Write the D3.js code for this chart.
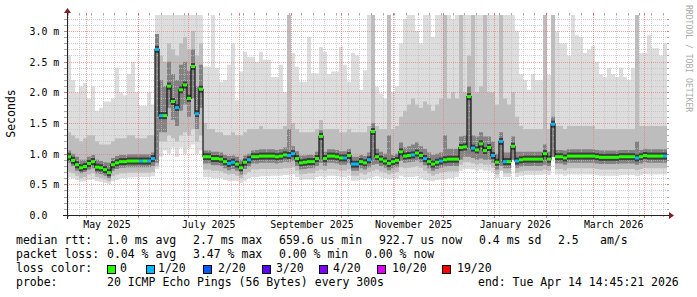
<!DOCTYPE html>
<html>
<head>
<meta charset="utf-8">
<script src="https://cdn.jsdelivr.net/npm/d3@7"></script>
<style>
  html, body { margin: 0; padding: 0; background: #fff; }
  svg { display: block; }
  text { font-family: "DejaVu Sans Mono", monospace; white-space: pre; }
</style>
</head>
<body>
<div id="chart"></div>
<script>
// 360 days, 150 consolidated steps of 2.4 days each (values in ms)
const median = [
  0.95,0.89,0.82,0.77,0.79,0.84,0.87,0.78,0.77,0.74,
  0.69,0.82,0.85,0.87,0.87,0.88,0.88,0.88,0.88,0.88,
  0.88,0.92,2.70,1.62,1.62,2.10,1.85,1.75,2.04,2.12,
  1.90,2.42,1.65,2.05,0.95,0.95,0.92,0.92,0.91,0.87,
  0.84,0.86,0.83,0.77,0.86,0.90,0.95,0.95,0.96,0.96,
  0.96,0.96,0.95,0.96,0.98,0.97,1.00,0.92,0.85,0.86,
  0.87,0.87,0.92,1.28,0.92,0.96,0.96,0.95,0.93,0.93,
  0.97,0.83,0.83,0.87,0.85,0.90,1.36,0.95,0.91,0.88,
  0.84,0.87,0.89,1.03,0.96,0.97,0.98,1.01,0.97,0.92,
  0.87,0.83,0.86,0.88,0.90,0.91,0.91,0.91,1.10,1.11,
  1.93,1.09,1.06,1.16,1.05,1.10,0.97,0.86,1.20,0.87,
  0.87,1.12,0.88,0.90,0.91,0.91,0.91,0.91,0.91,1.00,
  0.91,1.48,0.95,0.95,0.93,0.96,0.96,0.96,0.96,0.96,
  0.96,0.96,0.95,0.94,0.94,0.94,0.94,0.94,0.95,0.95,
  0.95,0.95,0.93,0.95,0.97,0.96,0.96,0.96,0.96,0.96
];
// index into lossColors (0 = no loss, 1 = 1/20 ...)
const loss = [
  0,0,0,0,0,0,0,0,0,0,
  0,0,0,0,0,0,0,0,1,0,
  1,1,1,1,0,0,0,1,0,0,
  0,0,1,0,0,0,0,0,0,0,
  1,1,0,0,0,1,0,0,0,0,
  0,0,0,0,0,1,1,0,0,0,
  0,0,0,0,0,0,0,0,0,1,
  0,1,1,0,0,1,0,0,0,0,
  0,0,0,0,0,0,1,0,0,1,
  0,0,0,1,0,0,0,0,0,0,
  0,1,0,0,0,0,1,0,1,1,
  0,0,1,0,0,0,0,0,0,0,
  0,1,0,0,0,0,0,0,0,0,
  0,0,0,0,0,0,0,0,0,0,
  0,0,1,0,0,0,0,0,0,1
];
const maxv = [
  2.60,2.20,2.00,2.10,2.15,1.90,2.10,1.70,1.75,1.85,
  1.85,1.90,2.40,2.00,1.95,2.30,2.50,2.00,1.78,1.78,
  2.00,1.80,3.60,3.60,3.60,3.60,3.60,3.60,3.60,3.60,
  3.60,3.60,3.60,3.60,2.42,2.42,3.60,2.40,2.17,2.20,
  2.45,2.80,1.87,2.34,2.66,2.58,2.58,2.50,2.66,2.53,
  2.53,2.25,2.25,2.45,2.00,3.60,2.64,2.42,2.17,2.17,
  2.90,2.31,2.31,2.74,2.66,2.30,2.34,2.34,2.74,2.45,
  2.17,2.64,2.60,2.04,2.36,3.60,3.60,2.09,1.98,1.90,
  3.60,2.00,2.10,2.80,3.20,3.60,3.60,3.00,2.80,3.30,
  3.60,2.90,3.40,3.60,3.60,3.30,3.20,3.30,3.60,3.60,
  3.60,3.60,3.60,3.30,3.60,3.60,3.60,3.30,3.60,3.60,
  3.60,3.60,3.00,2.30,2.20,2.04,2.30,2.20,2.20,3.60,
  2.28,3.60,2.99,2.80,2.80,2.60,3.60,2.93,2.90,2.64,
  2.70,2.75,2.50,2.30,2.25,2.40,2.30,2.25,2.40,2.25,
  2.20,2.40,3.60,2.64,2.64,2.93,2.72,2.72,2.60,2.80
];
const hi2 = [
  1.35,1.30,1.25,1.20,1.25,1.30,1.30,1.20,1.15,1.15,
  1.15,1.20,1.25,1.25,1.25,1.30,1.30,1.25,1.25,1.25,
  1.30,1.30,2.90,2.60,2.50,2.80,2.70,2.60,2.80,2.90,
  2.70,3.00,2.60,2.80,1.50,1.40,1.40,1.35,1.35,1.30,
  1.30,1.35,1.30,1.30,1.35,1.40,1.40,1.40,1.45,1.40,
  1.40,1.40,1.40,1.40,1.45,3.60,1.50,1.40,1.35,1.35,
  1.35,1.35,1.40,1.55,1.40,1.40,1.40,1.40,1.35,1.35,
  1.40,1.35,1.35,1.35,1.35,1.45,3.60,1.45,1.40,1.40,
  3.60,1.40,1.45,1.60,1.70,1.80,1.90,1.80,1.75,1.85,
  1.80,1.70,1.80,1.90,3.60,1.90,2.00,1.90,3.60,2.00,
  2.60,3.60,2.00,2.10,3.60,2.00,2.00,1.80,3.60,1.90,
  1.80,2.00,1.60,1.45,1.40,1.40,1.40,1.40,1.40,3.60,
  1.40,3.60,1.45,1.45,1.40,1.45,1.45,1.45,1.45,1.45,
  1.45,1.45,1.40,1.40,1.40,1.40,1.40,1.40,1.40,1.40,
  1.40,1.40,3.60,1.45,1.45,1.45,1.45,1.45,1.45,1.45
];
const hi3 = [
  1.05,1.00,0.95,0.90,0.90,0.95,0.98,0.90,0.88,0.86,
  0.85,0.93,0.96,0.98,0.98,0.99,0.99,0.99,0.99,0.99,
  0.99,1.02,2.95,2.20,2.10,2.50,2.30,2.20,2.45,2.50,
  2.35,2.70,2.10,2.45,1.05,1.05,1.03,1.03,1.02,0.98,
  0.96,0.97,0.95,0.90,0.97,1.00,1.05,1.06,1.07,1.07,
  1.07,1.07,1.06,1.07,1.10,1.40,1.12,1.04,0.97,0.97,
  0.98,0.98,1.03,1.38,1.03,1.07,1.07,1.06,1.04,1.04,
  1.08,0.95,0.95,0.98,0.96,1.02,1.50,1.08,1.03,1.00,
  1.30,0.98,1.00,1.18,1.10,1.12,1.15,1.18,1.12,1.08,
  1.02,0.98,1.00,1.02,1.30,1.08,1.08,1.08,1.28,1.30,
  2.10,1.30,1.28,1.35,1.28,1.28,1.20,1.00,1.35,1.02,
  1.02,1.28,1.03,1.03,1.03,1.03,1.03,1.03,1.03,1.15,
  1.03,1.60,1.06,1.06,1.05,1.07,1.07,1.07,1.07,1.07,
  1.07,1.07,1.06,1.05,1.05,1.05,1.05,1.05,1.06,1.06,
  1.06,1.06,1.20,1.06,1.08,1.07,1.07,1.07,1.07,1.07
];
const lo3 = [
  0.85,0.80,0.72,0.68,0.70,0.74,0.76,0.68,0.67,0.64,
  0.60,0.72,0.75,0.77,0.77,0.78,0.78,0.78,0.78,0.78,
  0.78,0.80,0.85,1.35,1.35,1.75,1.55,1.45,1.70,1.80,
  1.60,1.90,1.40,1.75,0.84,0.84,0.81,0.81,0.80,0.76,
  0.73,0.75,0.72,0.66,0.75,0.79,0.84,0.84,0.85,0.85,
  0.85,0.85,0.84,0.85,0.87,0.86,0.88,0.80,0.74,0.75,
  0.76,0.76,0.80,0.85,0.80,0.85,0.85,0.84,0.82,0.82,
  0.85,0.72,0.72,0.76,0.74,0.78,0.82,0.83,0.80,0.77,
  0.73,0.76,0.78,0.88,0.85,0.86,0.87,0.89,0.86,0.81,
  0.76,0.72,0.75,0.77,0.79,0.80,0.80,0.80,0.90,0.95,
  0.95,0.93,0.90,0.92,0.90,0.90,0.85,0.74,0.80,0.76,
  0.76,0.90,0.77,0.79,0.80,0.80,0.80,0.80,0.80,0.82,
  0.80,0.95,0.84,0.84,0.82,0.85,0.85,0.85,0.85,0.85,
  0.85,0.85,0.84,0.83,0.83,0.83,0.83,0.83,0.84,0.84,
  0.84,0.84,0.82,0.84,0.86,0.85,0.85,0.85,0.85,0.85
];
const lo2 = [
  0.70,0.68,0.64,0.60,0.62,0.66,0.68,0.62,0.60,0.58,
  0.55,0.63,0.66,0.68,0.68,0.69,0.69,0.69,0.69,0.69,
  0.69,0.70,0.80,1.20,1.20,1.30,1.25,1.20,1.30,1.35,
  1.30,1.40,1.20,1.30,0.74,0.74,0.72,0.72,0.71,0.68,
  0.66,0.67,0.64,0.60,0.66,0.70,0.74,0.74,0.75,0.75,
  0.75,0.75,0.75,0.75,0.76,0.76,0.78,0.72,0.66,0.67,
  0.68,0.68,0.72,0.74,0.72,0.75,0.75,0.74,0.72,0.72,
  0.75,0.64,0.64,0.68,0.66,0.70,0.72,0.74,0.71,0.69,
  0.66,0.68,0.70,0.78,0.76,0.77,0.78,0.80,0.77,0.72,
  0.68,0.64,0.67,0.69,0.70,0.71,0.71,0.71,0.82,0.86,
  0.86,0.84,0.82,0.84,0.82,0.82,0.77,0.66,0.72,0.68,
  0.68,0.90,0.69,0.71,0.72,0.72,0.72,0.72,0.72,0.74,
  0.72,0.95,0.75,0.75,0.73,0.76,0.76,0.76,0.76,0.76,
  0.76,0.76,0.75,0.74,0.74,0.74,0.74,0.74,0.75,0.75,
  0.75,0.75,0.73,0.75,0.77,0.76,0.76,0.76,0.76,0.76
];
const minv = [
  0.62,0.60,0.57,0.54,0.55,0.57,0.58,0.55,0.54,0.52,
  0.50,0.55,0.57,0.60,0.60,0.61,0.61,0.62,0.62,0.62,
  0.62,0.63,0.75,0.95,1.05,1.00,1.10,0.95,1.10,1.00,
  1.10,1.15,1.00,1.05,0.62,0.62,0.60,0.60,0.60,0.57,
  0.55,0.56,0.55,0.52,0.56,0.60,0.62,0.62,0.63,0.63,
  0.63,0.64,0.64,0.64,0.65,0.65,0.66,0.62,0.57,0.58,
  0.58,0.58,0.62,0.63,0.62,0.64,0.64,0.63,0.62,0.62,
  0.64,0.56,0.56,0.58,0.57,0.60,0.62,0.63,0.61,0.60,
  0.58,0.59,0.60,0.64,0.62,0.62,0.62,0.63,0.60,0.57,
  0.56,0.55,0.57,0.58,0.58,0.60,0.60,0.62,0.72,0.75,
  0.75,0.74,0.72,0.74,0.72,0.72,0.70,0.60,0.90,0.62,
  0.62,0.95,0.62,0.64,0.65,0.65,0.65,0.65,0.65,0.66,
  0.65,0.95,0.66,0.66,0.64,0.66,0.66,0.66,0.66,0.66,
  0.66,0.66,0.65,0.64,0.64,0.64,0.64,0.64,0.65,0.65,
  0.65,0.65,0.63,0.65,0.67,0.66,0.66,0.66,0.66,0.66
];

const yTicks = [0, 0.5, 1.0, 1.5, 2.0, 2.5, 3.0];
const yTickLabels = ["0.0", "0.5 m", "1.0 m", "1.5 m", "2.0 m", "2.5 m", "3.0 m"];
const xLabelMonths = [new Date(2025, 4, 1), new Date(2025, 6, 1), new Date(2025, 8, 1),
  new Date(2025, 10, 1), new Date(2026, 0, 1), new Date(2026, 2, 1)];
const xLabels = ["May 2025", "July 2025", "September 2025", "November 2025", "January 2026", "March 2026"];

const lossLabels = ["0", "1/20", "2/20", "3/20", "4/20", "10/20", "19/20"];
const lossColors = ["#26ff00", "#00b8ff", "#0059ff", "#5e00ff", "#7e00ff", "#dd00ff", "#ff0000"];

const rttStats = ["1.0 ms avg", "2.7 ms max", "659.6 us min", "922.7 us now", "0.4 ms sd", "2.5", "am/s"];
const lossStats = ["0.04 % avg", "3.47 % max", "0.00 % min", "0.00 % now"];
const probeText = "20 ICMP Echo Pings (56 Bytes) every 300s";
const endText = "end: Tue Apr 14 14:45:21 2026";

//////////////////////////////////////////////////////////////////////////////

const end = new Date(2026, 3, 14, 14, 45, 21);
const start = new Date(+end - 360 * 864e5);
const step = (end - start) / median.length;

const svg = d3.select("#chart").append("svg")
  .attr("width", 697)
  .attr("height", 297);

const x = d3.scaleTime().domain([start, end]).range([67, 667]);
const y = d3.scaleLinear().domain([0, 3.26]).range([215, 15]);

let rows = median.map((m, i) => ({
  t: new Date(+start + i * step),
  t1: new Date(+start + (i + 1) * step),
  m, loss: loss[i], max: maxv[i], hi2: hi2[i], hi3: hi3[i],
  lo3: lo3[i], lo2: lo2[i], min: minv[i],
}));
let pts = rows.concat([Object.assign({}, rows[rows.length - 1], { t: end })]);

svg.append("clipPath").attr("id", "plot")
  .append("rect").attr("x", 67).attr("y", 15).attr("width", 600).attr("height", 200);

let smoke = svg.append("g").attr("clip-path", "url(#plot)");
let bands = [["min", "max", "#dddddd"], ["lo2", "hi2", "#bdbdbd"], ["lo3", "hi3", "#828282"]];
bands.forEach(([lo, hi, color]) => {
  smoke.append("path")
    .datum(pts)
    .attr("fill", color)
    .attr("d", d3.area()
      .curve(d3.curveStepAfter)
      .x((d) => x(d.t))
      .y0((d) => y(d[lo]))
      .y1((d) => y(d[hi])));
});

// grid (drawn over the smoke, like rrdtool)
let grid = svg.append("g").attr("fill", "none").attr("stroke-width", 1);
let minorY = d3.range(0, 33).map((d) => d / 10).filter((d) => y(d) >= 15 && d % 0.5 > 0.01 && d % 0.5 < 0.49);
let weeks = d3.timeSunday.range(start, end);
let months = d3.timeMonth.range(start, end);
let px = (v) => Math.round(v) + 0.5;

grid.selectAll(".vmin").data(weeks).enter().append("line")
  .attr("x1", (d) => px(x(d))).attr("x2", (d) => px(x(d)))
  .attr("y1", 15).attr("y2", 215)
  .attr("stroke", "rgba(191,191,191,0.75)").attr("stroke-dasharray", "1,1");
grid.selectAll(".hmin").data(minorY).enter().append("line")
  .attr("x1", 67).attr("x2", 667)
  .attr("y1", (d) => px(y(d))).attr("y2", (d) => px(y(d)))
  .attr("stroke", "rgba(191,191,191,0.75)").attr("stroke-dasharray", "1,1");
grid.selectAll(".vmaj").data(months).enter().append("line")
  .attr("x1", (d) => px(x(d))).attr("x2", (d) => px(x(d)))
  .attr("y1", 15).attr("y2", 215)
  .attr("stroke", "rgba(230,128,128,0.75)").attr("stroke-dasharray", "1,1");
grid.selectAll(".hmaj").data(yTicks.slice(1)).enter().append("line")
  .attr("x1", 67).attr("x2", 667)
  .attr("y1", (d) => px(y(d))).attr("y2", (d) => px(y(d)))
  .attr("stroke", "rgba(230,128,128,0.75)").attr("stroke-dasharray", "1,1");

// tick marks on the edges
let ticks = svg.append("g").attr("stroke-width", 1);
ticks.selectAll(".ty").data(minorY).enter().append("path")
  .attr("d", (d) => `M64,${px(y(d))}H67M667,${px(y(d))}H669`)
  .attr("stroke", "rgba(150,150,150,0.8)");
ticks.selectAll(".tyM").data(yTicks.slice(1)).enter().append("path")
  .attr("d", (d) => `M64,${px(y(d))}H67M667,${px(y(d))}H669`)
  .attr("stroke", "rgba(200,90,90,0.8)");
ticks.selectAll(".tx").data(weeks).enter().append("path")
  .attr("d", (d) => `M${px(x(d))},13V15M${px(x(d))},215V217`)
  .attr("stroke", "rgba(150,150,150,0.8)");
ticks.selectAll(".txM").data(months).enter().append("path")
  .attr("d", (d) => `M${px(x(d))},13V15M${px(x(d))},215V218`)
  .attr("stroke", "rgba(200,90,90,0.8)");

// median: dark core, thin connector, loss-coloured segments
let med = svg.append("g").attr("clip-path", "url(#plot)");
med.selectAll(".core").data(rows).enter().append("rect")
  .attr("x", (d) => x(d.t)).attr("width", (d) => x(d.t1) - x(d.t))
  .attr("y", (d) => y(d.m) - 3.5).attr("height", 7)
  .attr("fill", "#3c3c3c");
med.append("path")
  .datum(pts)
  .attr("fill", "none")
  .attr("stroke", "#111")
  .attr("stroke-width", 1.2)
  .attr("d", d3.line().curve(d3.curveStepAfter).x((d) => x(d.t)).y((d) => y(d.m)));
med.selectAll(".seg").data(rows).enter().append("rect")
  .attr("x", (d) => x(d.t)).attr("width", (d) => x(d.t1) - x(d.t))
  .attr("y", (d) => y(d.m) - 1.5).attr("height", 3)
  .attr("fill", (d) => lossColors[d.loss]);

// axes and arrows
svg.append("path").attr("d", "M63,215.5H671M67.5,219V11")
  .attr("stroke", "#212121").attr("fill", "none");
svg.append("path").attr("d", "M669,212L669,219L674,215.5Z").attr("fill", "#802121");
svg.append("path").attr("d", "M64,13L71,13L67.5,8Z").attr("fill", "#802121");

// axis labels
svg.append("g").selectAll("text").data(yTicks).enter().append("text")
  .attr("x", 29.5)
  .attr("y", (d) => Math.round(y(d)) + 4)
  .attr("font-size", "9.9px")
  .text((d, i) => yTickLabels[i]);
svg.append("g").selectAll("text").data(xLabelMonths).enter().append("text")
  .attr("x", (d) => x(d) + 21)
  .attr("y", 227.7)
  .attr("text-anchor", "middle")
  .attr("font-size", "9.9px")
  .text((d, i) => xLabels[i]);

svg.append("text")
  .attr("transform", "translate(15,113.5) rotate(-90)")
  .attr("text-anchor", "middle")
  .attr("font-size", "11.5px")
  .text("Seconds");

svg.append("text")
  .attr("transform", "translate(685.5,5) rotate(90)")
  .attr("font-size", "8.1px")
  .attr("fill", "#aaaaaa")
  .text("RRDTOOL / TOBI OETIKER");

// legend
let leg = svg.append("g").attr("font-size", "11.5px").attr("fill", "#000");
let rttX = [107, 193, 279, 379, 479, 558, 600];
let lossX = [107, 193, 279, 365];
leg.append("text").attr("x", 16).attr("y", 244.3).text("median rtt:");
leg.selectAll(".rtt").data(rttStats).enter().append("text")
  .attr("x", (d, i) => rttX[i]).attr("y", 244.3).text((d) => d);
leg.append("text").attr("x", 16).attr("y", 258.3).text("packet loss:");
leg.selectAll(".pl").data(lossStats).enter().append("text")
  .attr("x", (d, i) => lossX[i]).attr("y", 258.3).text((d) => d);
leg.append("text").attr("x", 16).attr("y", 272.3).text("loss color:");
let boxX = [107, 146, 203, 262, 319, 377, 442];
let boxLabelX = [120, 158, 218, 276, 333, 392, 457];
leg.selectAll(".box").data(lossColors).enter().append("rect")
  .attr("x", (d, i) => boxX[i] + 0.5).attr("y", 265.5)
  .attr("width", 8).attr("height", 8)
  .attr("fill", (d) => d).attr("stroke", "#000");
leg.selectAll(".bl").data(lossLabels).enter().append("text")
  .attr("x", (d, i) => boxLabelX[i]).attr("y", 272.3).text((d) => d);
leg.append("text").attr("x", 16).attr("y", 286.3).text("probe:");
leg.append("text").attr("x", 107).attr("y", 286.3).text(probeText);
leg.append("text").attr("x", 478).attr("y", 286.3).text(endText);
</script>
</body>
</html>
